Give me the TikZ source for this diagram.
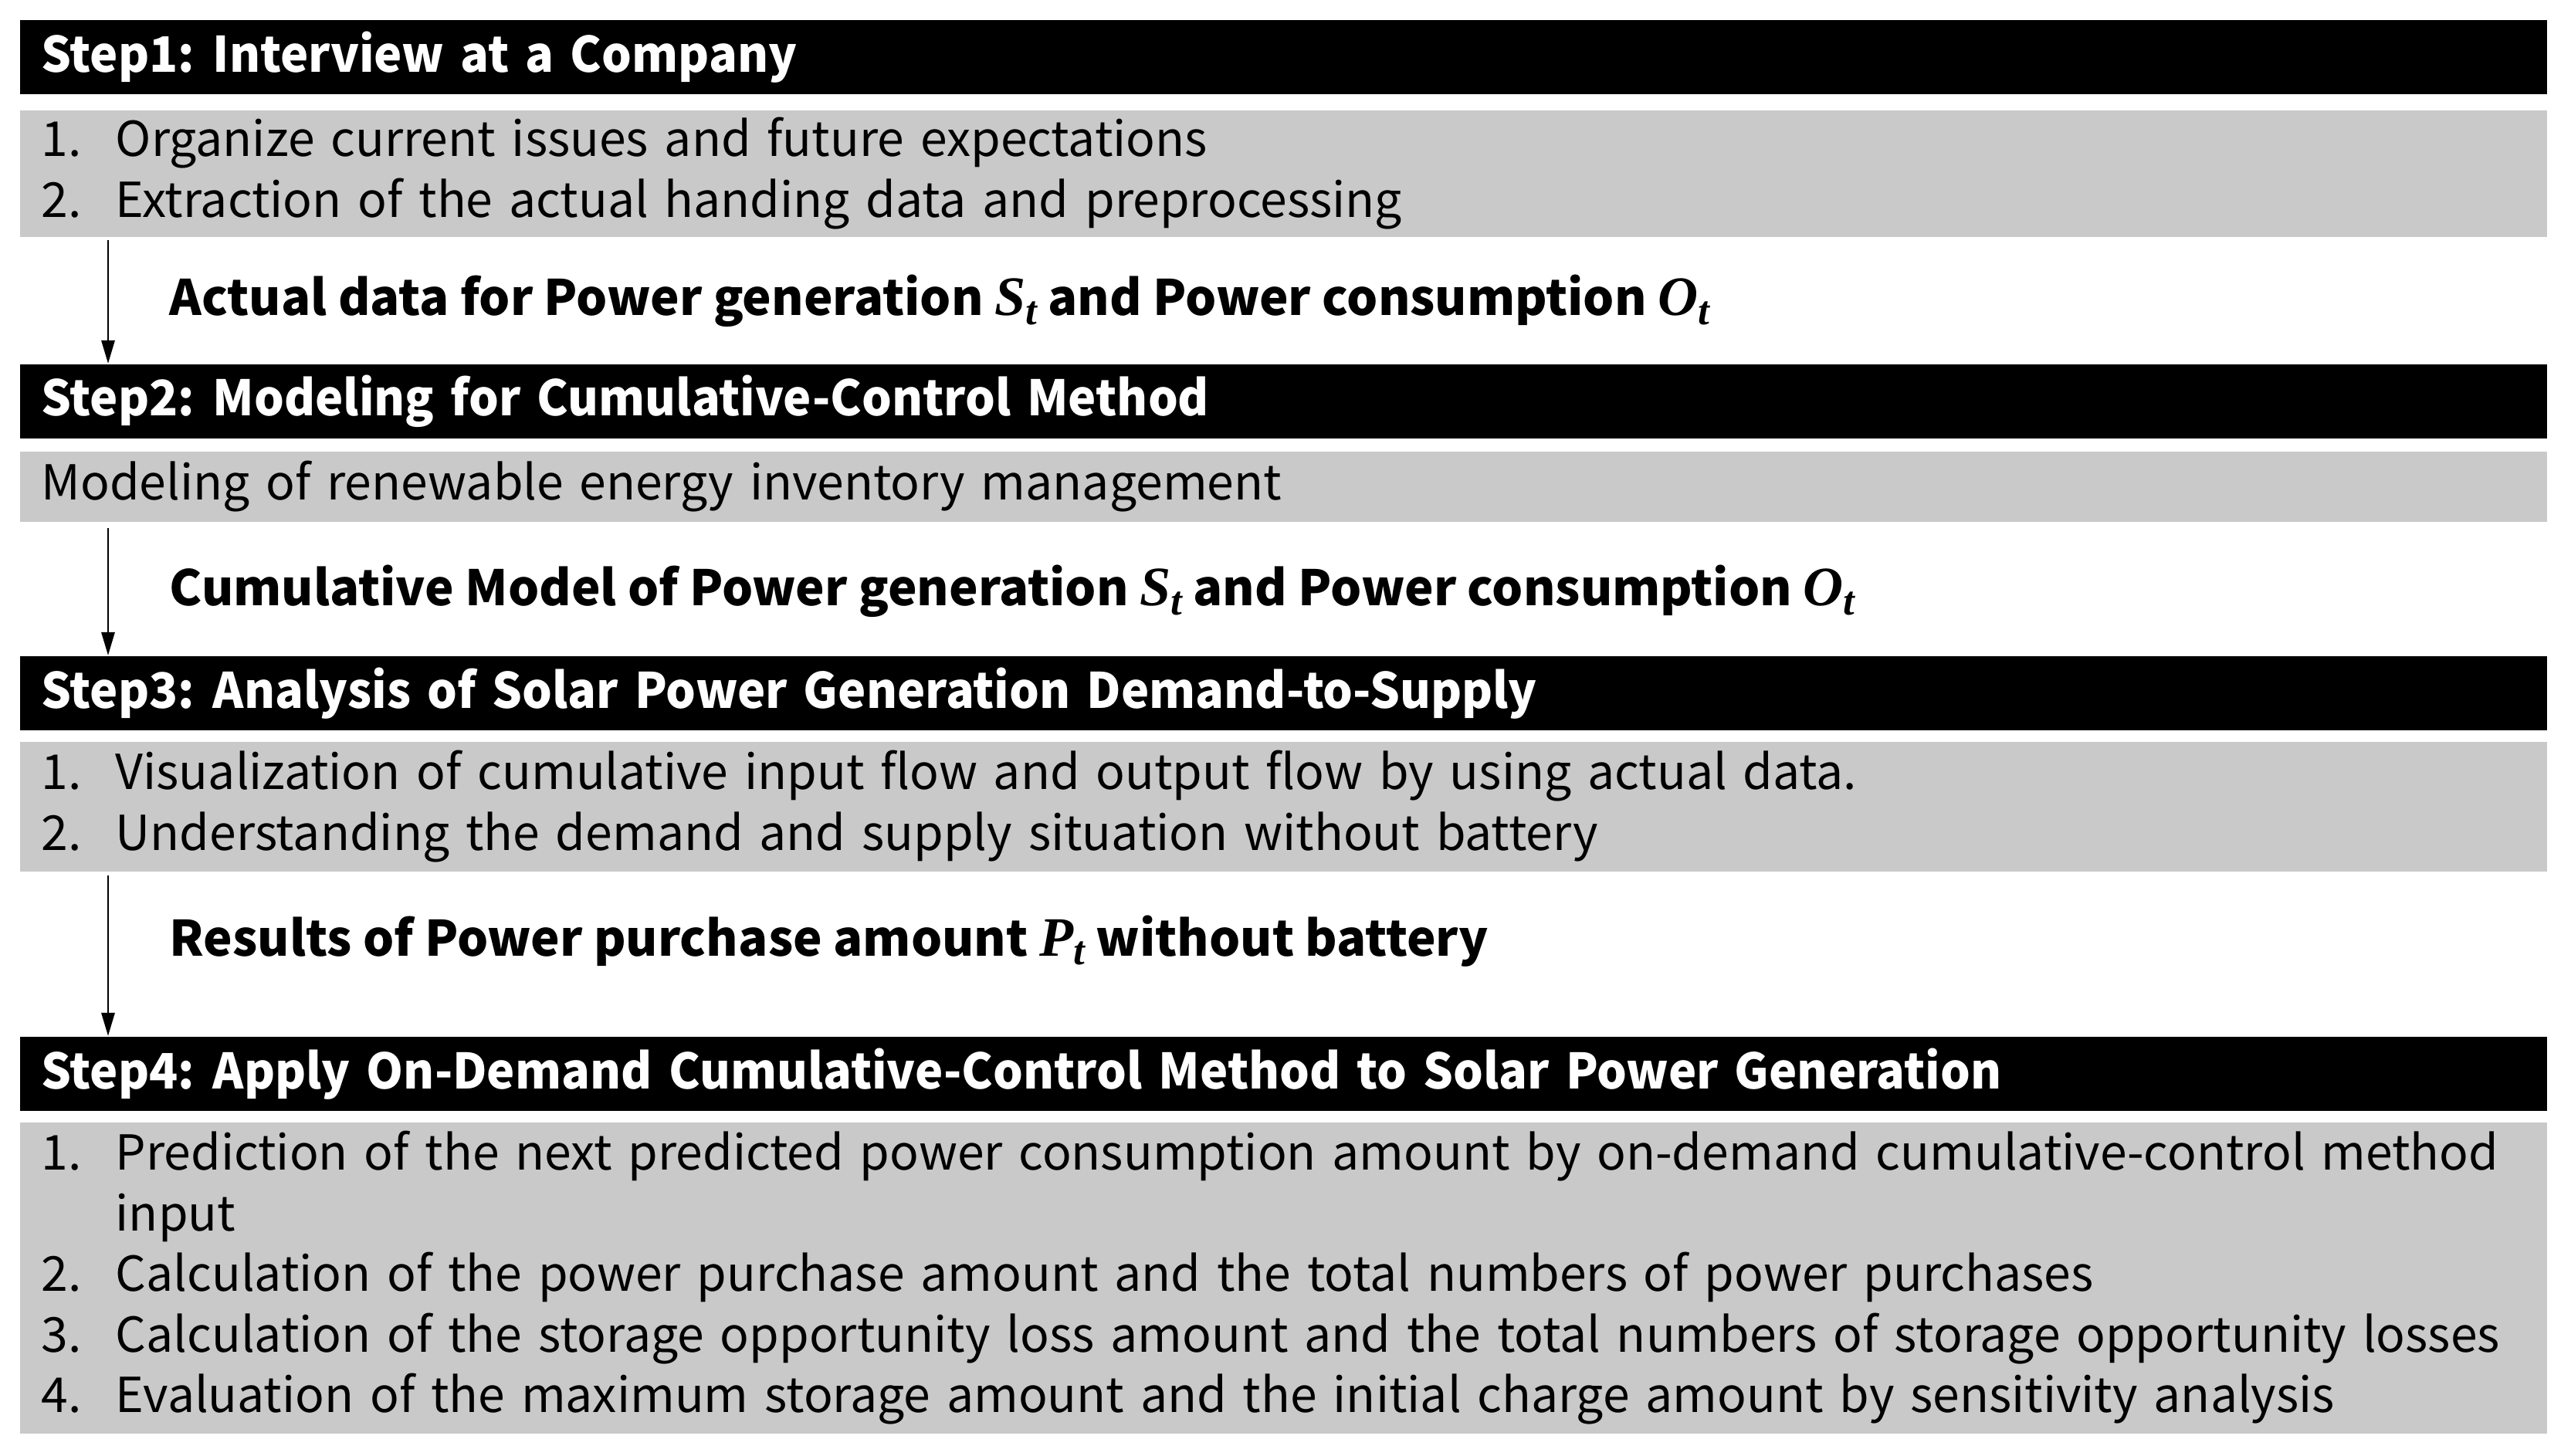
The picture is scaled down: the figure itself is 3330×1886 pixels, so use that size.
\RequirePackage{fix-cm}
\documentclass[tikz,border=0pt]{standalone}
\usepackage{fontspec}
\setmainfont{Noto Sans CJK JP}
\newfontfamily\headfont{Noto Sans CJK JP}[FakeStretch=0.965]
\newfontfamily\mfont{Liberation Serif}
\usetikzlibrary{arrows.meta,calc}
\definecolor{boxgray}{RGB}{201,201,201}
\newcommand{\mv}[2]{{\mfont\bfseries\itshape\fontsize{20.5}{20.5}\selectfont #1\raisebox{-0.35ex}{\fontsize{15}{15}\selectfont #2}}}
\newcommand{\nitem}[2]{\hangindent=0.96cm\hangafter=1\noindent\makebox[0.96cm][l]{#1}#2\par}
\tikzset{
  stepbar/.style={fill=black, text=white, anchor=north west, inner xsep=0.28cm, inner ysep=0pt,
    text width=32.15cm, align=left, minimum height=0.96cm,
    font=\headfont\bfseries\fontsize{18}{22.3}\selectfont},
  graybox/.style={fill=boxgray, text=black, anchor=north west, inner xsep=0.28cm, inner ysep=0pt,
    text width=32.15cm, align=left, font=\fontsize{17.75}{22.3}\selectfont},
  flowlabel/.style={anchor=west, inner sep=0pt, font=\bfseries\fontsize{18}{22.3}\selectfont},
  flowarrow/.style={line width=0.8pt, -{Triangle[length=0.3cm,width=0.17cm]}}
}
\begin{document}
\begin{tikzpicture}[x=0.01cm,y=-0.01cm]
\useasboundingbox (0,0) rectangle (3330,1886);
\fill[white] (0,0) rectangle (3330,1886);

\node[stepbar] (s1) at (25,25) {Step1:\kern-0.12em{} Interview at a Company};
\node[graybox, minimum height=1.64cm] (g1) at (25,142)
  {\nitem{1.}{Organize current issues and future expectations}\nitem{2.}{Extraction of the actual handing data and preprocessing}};

\node[stepbar] (s2) at (25,471) {Step2:\kern-0.12em{} Modeling for Cumulative-Control Method};
\node[graybox, minimum height=0.91cm] (g2) at (25,584)
  {Modeling of renewable energy inventory management};

\node[stepbar] (s3) at (25,849) {Step3:\kern-0.12em{} Analysis of Solar Power Generation Demand-to-Supply};
\node[graybox, minimum height=1.68cm] (g3) at (25,960)
  {\nitem{1.}{Visualization of cumulative input flow and output flow by using actual data.}\nitem{2.}{Understanding the demand and supply situation without battery}};

\node[stepbar] (s4) at (25,1342) {Step4:\kern-0.12em{} Apply On-Demand Cumulative-Control Method to Solar Power Generation};
\node[graybox, minimum height=4.03cm] (g4) at (25,1453)
  {\nitem{1.}{\mbox{Prediction of the next predicted power consumption amount by on-demand cumulative-control method}\newline input}\nitem{2.}{\mbox{Calculation of the power purchase amount and the total numbers of power purchases}}\nitem{3.}{\mbox{Calculation of the storage opportunity loss amount and the total numbers of storage opportunity losses}}\nitem{4.}{\mbox{Evaluation of the maximum storage amount and the initial charge amount by sensitivity analysis}}};

\node[flowlabel] (l1) at (219,390) {Actual data for Power generation \mv{S}{t} and Power consumption \mv{O}{t}};
\node[flowlabel] (l2) at (219,766) {Cumulative Model of Power generation \mv{S}{t} and Power consumption \mv{O}{t}};
\node[flowlabel] (l3) at (219,1219) {Results of Power purchase amount \mv{P}{t} without battery};

\draw[flowarrow] ($(g1.south west)+(115,4)$) -- ($(s2.north west)+(115,0)$);
\draw[flowarrow] ($(g2.south west)+(115,8)$) -- ($(s3.north west)+(115,0)$);
\draw[flowarrow] ($(g3.south west)+(115,4)$) -- ($(s4.north west)+(115,0)$);
\end{tikzpicture}
\end{document}
